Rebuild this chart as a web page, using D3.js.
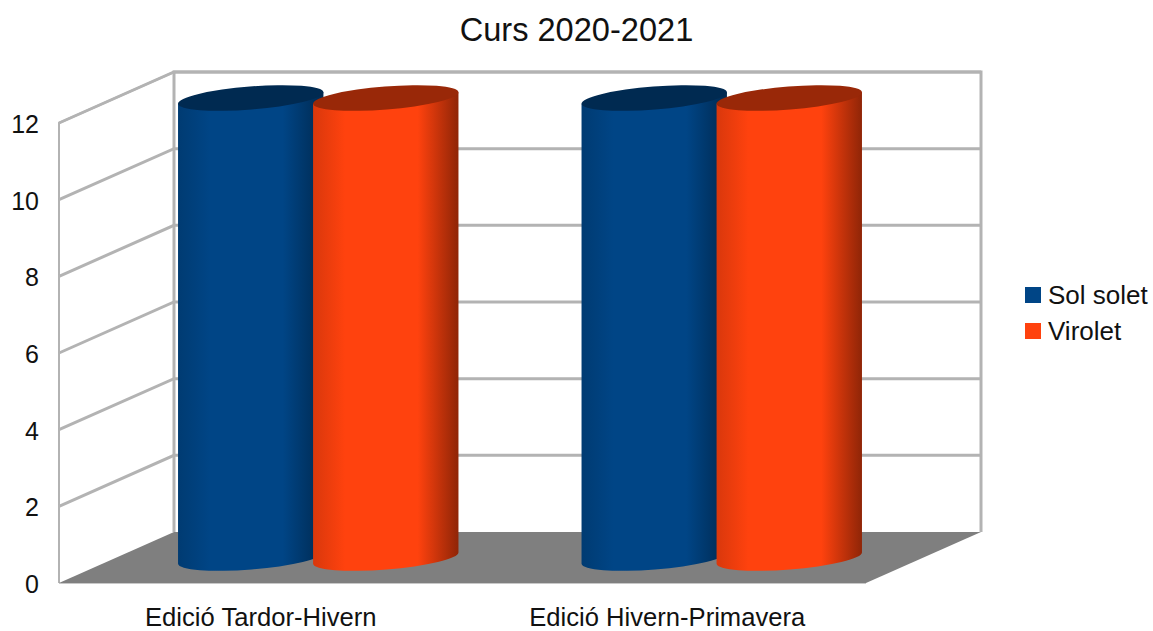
<!DOCTYPE html>
<html>
<head>
<meta charset="utf-8">
<script src="https://cdn.jsdelivr.net/npm/d3@7"></script>
<style>
  html, body { margin: 0; padding: 0; background: #fff; }
  svg { display: block; }
  text { font-family: "Liberation Sans", sans-serif; fill: #111; }
</style>
</head>
<body>
<div id="chart"></div>
<script>
const title = "Curs 2020-2021";
const categories = ["Edició Tardor-Hivern", "Edició Hivern-Primavera"];
const seriesNames = ["Sol solet", "Virolet"];
const solSolet = [12, 12];
const virolet = [12, 12];
const yTicks = [0, 2, 4, 6, 8, 10, 12];
const colors = ["#004586", "#ff420e"];
const topColors = ["#002a51", "#992808"];
const edgeColors = ["#002a51", "#8f2507"];

const w = 1153;
const h = 631;
const depthX = 115;
const depthY = -51;
const gridColor = "#b3b3b3";

const svg = d3.select("#chart").append("svg")
    .attr("width", w)
    .attr("height", h);

// Front plane scales
const xScale = d3.scaleBand().domain(categories).range([59, 866]);
const xInner = d3.scaleBand().domain(seriesNames).range([0, xScale.step()])
    .paddingInner(0).paddingOuter(0.494);
const yScale = d3.scaleLinear().domain([0, 12]).range([583, 123]);

const x0 = xScale.range()[0];
const x1 = xScale.range()[1];
const yBase = yScale(0);
const yTop = yScale(12);

// Gradients for the cylinders
const defs = svg.append("defs");
seriesNames.forEach((s, i) => {
    const g = defs.append("linearGradient")
        .attr("id", "grad" + i)
        .attr("x1", "0").attr("x2", "1").attr("y1", "0").attr("y2", "0");
    const c = d3.color(colors[i]);
    g.append("stop").attr("offset", "0").attr("stop-color", c.darker(0.45));
    g.append("stop").attr("offset", "0.22").attr("stop-color", colors[i]);
    g.append("stop").attr("offset", "0.72").attr("stop-color", colors[i]);
    g.append("stop").attr("offset", "1").attr("stop-color", edgeColors[i]);
});

// Chart title
svg.append("text")
    .attr("x", 576.5)
    .attr("y", 41)
    .attr("text-anchor", "middle")
    .attr("font-size", 32.6)
    .text(title);

// Back wall outline
svg.append("path")
    .attr("d", `M${x0 + depthX},${yBase + depthY}V${yTop + depthY}H${x1 + depthX}V${yBase + depthY}`)
    .attr("fill", "#fff")
    .attr("stroke", gridColor)
    .attr("stroke-width", 3);

// Left wall outline
svg.append("path")
    .attr("d", `M${x0},${yBase}V${yTop}L${x0 + depthX},${yTop + depthY}`)
    .attr("fill", "none")
    .attr("stroke", gridColor)
    .attr("stroke-width", 2);

// Grid lines on both walls
svg.append("g").selectAll("path")
    .data(yTicks.filter((d) => d > 0))
    .enter()
    .append("path")
    .attr("d", (d) => {
        const y = yScale(d);
        return `M${x0},${y}L${x0 + depthX},${y + depthY}H${x1 + depthX}`;
    })
    .attr("fill", "none")
    .attr("stroke", gridColor)
    .attr("stroke-width", 3);

// Floor
svg.append("path")
    .attr("d", `M${x0},${yBase}L${x0 + depthX},${yBase + depthY}H${x1 + depthX}L${x1},${yBase}Z`)
    .attr("fill", "#7f7f7f");
svg.append("line")
    .attr("x1", x0).attr("x2", x1)
    .attr("y1", yBase + 0.5).attr("y2", yBase + 0.5)
    .attr("stroke", "#c8c8c8");

// Y axis
const yAxis = d3.axisLeft(yScale).tickValues(yTicks).tickSize(0).tickPadding(0).tickFormat(d3.format("d"));
svg.append("g")
    .attr("transform", "translate(39, 1.5)")
    .call(yAxis)
    .call((g) => g.select(".domain").remove())
    .call((g) => g.selectAll("text")
        .attr("font-size", 25)
        .attr("font-family", "Liberation Sans")
        .attr("fill", "#111"));

// Cylinders, each series in front of the previous one
const rotation = -4.5;
const cosR = Math.cos(rotation * Math.PI / 180);
const sinR = Math.sin(rotation * Math.PI / 180);
const rx = xInner.bandwidth() * 0.54;
const ry = 11.5;

const rows = [];
seriesNames.forEach((s, si) => {
    const values = si === 0 ? solSolet : virolet;
    categories.forEach((c, ci) => rows.push({ series: s, si: si, cat: c, value: values[ci] }));
});
rows.sort((a, b) => categories.indexOf(a.cat) - categories.indexOf(b.cat) || a.si - b.si);

const cyl = svg.append("g").selectAll("g")
    .data(rows)
    .enter()
    .append("g");

const cx = (d) => xScale(d.cat) + xInner(d.series) + xInner.bandwidth() / 2 + depthX / 2;
const cyTop = (d) => yScale(d.value) + depthY / 2 + 0.5;
const cyBot = (d) => yScale(0) + depthY / 2 + 0.5;

cyl.append("path")
    .attr("d", (d) => {
        const lx = cx(d) - rx * cosR, rxx = cx(d) + rx * cosR;
        const dy = rx * sinR;
        return `M${lx},${cyTop(d) - dy}L${lx},${cyBot(d) - dy}` +
            `A${rx},${ry} ${rotation} 0 0 ${rxx},${cyBot(d) + dy}` +
            `L${rxx},${cyTop(d) + dy}Z`;
    })
    .attr("fill", (d) => `url(#grad${d.si})`);

cyl.append("ellipse")
    .attr("rx", rx)
    .attr("ry", ry)
    .attr("transform", (d) => `translate(${cx(d)},${cyTop(d)}) rotate(${rotation})`)
    .attr("fill", (d) => topColors[d.si]);

// Category labels
svg.append("g").selectAll("text")
    .data(categories)
    .enter()
    .append("text")
    .attr("x", (d, i) => xScale(d) + xScale.bandwidth() / 2 + i * 3)
    .attr("y", 625.5)
    .attr("text-anchor", "middle")
    .attr("font-size", 25.6)
    .text((d) => d);

// Legend
const legend = svg.append("g").attr("id", "legend");
const legendY = d3.scalePoint().domain(seriesNames).range([295, 331]);

legend.selectAll("rect")
    .data(seriesNames)
    .enter()
    .append("rect")
    .attr("x", 1025)
    .attr("y", (d) => legendY(d) - 8)
    .attr("width", 16)
    .attr("height", 16)
    .attr("fill", (d, i) => colors[i]);

legend.selectAll("text")
    .data(seriesNames)
    .enter()
    .append("text")
    .attr("x", 1048)
    .attr("y", (d) => legendY(d) + 8.5)
    .attr("font-size", 26)
    .text((d) => d);
</script>
</body>
</html>
